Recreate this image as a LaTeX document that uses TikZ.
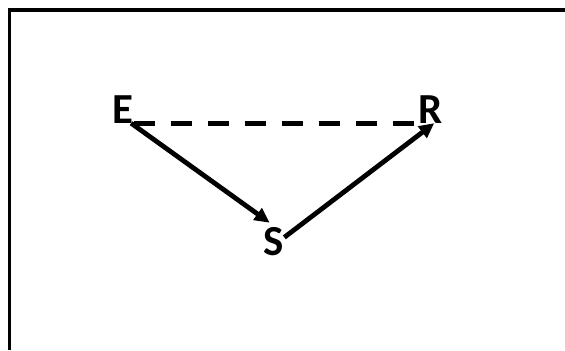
\documentclass[tikz,border=0pt]{standalone}
\usepackage{fontspec}
\setmainfont{Carlito}
\usetikzlibrary{positioning,arrows.meta}
\definecolor{inkBlack}{HTML}{000000}
\tikzset{
    letter/.style={inner sep=0pt,anchor=base,text=inkBlack,
        font=\fontsize{43}{50}\selectfont\bfseries},
    arrow/.style={-{Triangle[length=15bp,width=14bp]},draw=inkBlack,line width=4.8bp},
    dashline/.style={draw=inkBlack,line width=5bp,dash pattern=on 21bp off 16bp},
    frame/.style={draw=inkBlack,line width=3.5bp}
}
\begin{document}
\begin{tikzpicture}[x=1bp,y=1bp]
        \useasboundingbox (0,0) rectangle (565,350);
        \coordinate (fl) at (9.5,0);
        \coordinate (ftl) at (9.5,340);
        \coordinate (ftr) at (565,340);
        \draw[frame] (fl) -- (ftl) -- (ftr);
        \node[letter] (E) at (123,227) {E};
        \node[letter] (R) at (431,227) {R};
        \node[letter] (S) at (274,95) {S};
        \draw[dashline] (E.base east) -- (R.base west);
        \draw[arrow] (E.-60) -- ([xshift=6bp,yshift=4bp]S.north west);
        \draw[arrow] (S.20) -- ([xshift=2bp]R.-85);
    \end{tikzpicture}
\end{document}
